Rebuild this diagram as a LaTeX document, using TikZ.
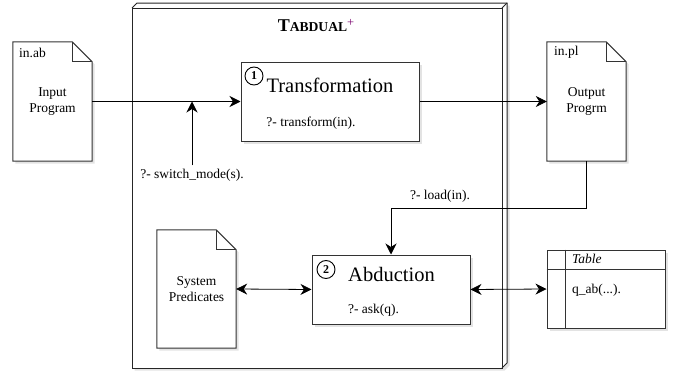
\documentclass[tikz,border=0pt]{standalone}
\usepackage{fontspec}
\setmainfont{Liberation Serif}
\usetikzlibrary{arrows.meta,shadows,calc}
\definecolor{plusc}{RGB}{120,0,110}
\newcommand\mydoc[1]{%
  \draw[docline,fill=white,shd] (#1.north west) -- ([xshift=-20pt]#1.north east) -- ([yshift=-20pt]#1.north east) -- (#1.south east) -- (#1.south west) -- cycle;
  \draw[docline] ([xshift=-20pt]#1.north east) |- ([yshift=-20pt]#1.north east);}
\begin{document}
\begin{tikzpicture}[x=1pt,y=-1pt,
  shd/.style={drop shadow={opacity=0.22,shadow xshift=2.5pt,shadow yshift=-2.5pt}},
  docline/.style={draw=black!80,line width=1pt},
  docbox/.style={inner sep=0,minimum width=79,minimum height=119},
  proc/.style={draw=black!80,line width=1pt,fill=white,shd,inner sep=0},
  cubeline/.style={draw=black!85,line width=1pt},
  tip/.tip={Stealth[length=11pt,width=11pt,inset=3.5pt]},
  arr/.style={draw=black,line width=0.8pt,-tip},
  darr/.style={draw=black,line width=0.8pt,tip-tip},
  small/.style={font=\fontsize{13.5}{16}\selectfont},
  big/.style={font=\fontsize{20.5}{24}\selectfont},
  num/.style={circle,draw=black,line width=0.9pt,minimum size=18,inner sep=0,font=\bfseries\fontsize{12}{12}\selectfont}
]
\useasboundingbox (0,0) rectangle (681,372);

% cube (TABDUAL+ container)
\path[fill=white,shd] (132,8) -- (137,3) -- (507,3) -- (507,363) -- (502,368) -- (132,368) -- cycle;
\draw[cubeline] (132,8) rectangle (502,368);
\draw[cubeline] (132,8) -- (137,3) -- (507,3) -- (507,363) -- (502,368);
\draw[cubeline] (502,8) -- (507,3);
\node (title) at (316,26) {\bfseries\fontsize{18}{20}\selectfont T\fontsize{13.6}{16}\selectfont ABDUAL\raisebox{5pt}{\fontsize{12.5}{12}\selectfont\mdseries\textcolor{plusc}{+}}};

% documents
\node[docbox] (inp) at (52.5,101.5) {};
\mydoc{inp}
\node[small,anchor=west,inner sep=0] (inplab) at (19,52.5) {in.ab};
\node[small,align=center] (inptxt) at (inp) {Input\\Program};

\node[docbox] (outp) at (586.5,101.5) {};
\mydoc{outp}
\node[small,anchor=west,inner sep=0] (outplab) at (554,52.5) {in.pl};
\node[small,align=center] (outptxt) at (outp) {Output\\Progrm};

\node[docbox,minimum height=118] (sp) at (196.5,289) {};
\mydoc{sp}
\node[small,align=center] (sptxt) at (sp) {System\\Predicates};

% Transformation
\node[proc,minimum width=178,minimum height=79] (trans) at (330,101.5) {};
\node[num] (c1) at (254,76) {1};
\node[big] (transtxt) at (330,85.5) {Transformation};
\node[small] (transq) at (311,123) {?- transform(in).};

% Abduction
\node[proc,minimum width=158,minimum height=69] (abd) at (391,289.5) {};
\node[num] (c2) at (326,269.5) {2};
\node[big] (abdtxt) at (391.5,274) {Abduction};
\node[small] (abdq) at (373.5,310) {?- ask(q).};

% Table
\node[proc,minimum width=118,minimum height=78] (tbl) at (606,289) {};
\coordinate (hy) at (0,269);
\draw[draw=black!80,line width=1pt] (tbl.west |- hy) -- (tbl.east |- hy);
\draw[draw=black!80,line width=1pt] ([xshift=19pt]tbl.north west) -- ([xshift=19pt]tbl.south west);
\node[small,anchor=west,inner sep=0] (tblhead) at (572,259) {\itshape Table};
\node[small,anchor=west,inner sep=0] (tblrow) at (572,290) {q\_ab(...).};

% connectors
\draw[arr] (inp.east) -- (trans.west);
\node[small] (sw) at (192,175) {?- switch\_mode(s).};
\draw[arr] (sw.north) -- (sw.north |- inp.east);
\draw[arr] (trans.east) -- (outp.west);
\coordinate (ly) at (0,208);
\node[small] (ld) at (440,196) {?- load(in).};
\draw[arr] (outp.south) |- (abd.north |- ly) -- (abd.north);
\draw[darr] (sp.east) -- (abd.west);
\draw[darr] (abd.east) -- (tbl.west);
\end{tikzpicture}
\end{document}
